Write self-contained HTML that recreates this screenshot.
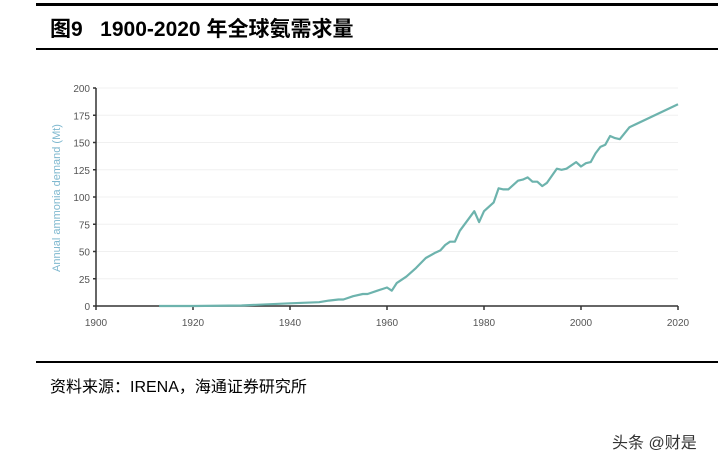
<!DOCTYPE html>
<html><head><meta charset="utf-8"><style>
body{margin:0;background:#fff;width:727px;height:464px;overflow:hidden;position:relative;font-family:"Liberation Sans","Noto Sans CJK SC",sans-serif}
.rule{position:absolute;left:36px;width:682px;height:3px;background:#000}
#title{position:absolute;left:50px;top:13px;font-size:21px;font-weight:bold;color:#000;font-family:"Liberation Sans","Noto Sans CJK SC",sans-serif}
#source{position:absolute;left:50px;top:373px;font-size:16px;color:#000}
#wm{position:absolute;left:612px;top:429px;font-size:16px;color:#333}
svg{position:absolute;left:0;top:0}
</style></head><body>
<div class="rule" style="top:3px"></div>
<div id="title">图9&nbsp;&nbsp; 1900-2020 年全球氨需求量</div>
<div class="rule" style="top:48px;height:2px"></div>
<svg id="chart" width="727" height="464"></svg>
<div class="rule" style="top:361px;height:2px"></div>
<div id="source">资料来源：IRENA，海通证券研究所</div>
<div id="wm">头条 @财是</div>
<script>
const years=[1913,1920,1930,1940,1946,1948,1950,1951,1953,1955,1956,1958,1960,1961,1962,1964,1966,1968,1970,1971,1972,1973,1974,1975,1977,1978,1979,1980,1982,1983,1984,1985,1987,1988,1989,1990,1991,1992,1993,1995,1996,1997,1999,2000,2001,2002,2003,2004,2005,2006,2007,2008,2010,2020];
const demand=[0,0,0.5,2.5,3.5,5,6,6,9,11,11,14,17,14,21,27,35,44,49,51,56,59,59,69,81,87,77,87,95,108,107,107,115,116,118,114,114,110,113,126,125,126,132,128,131,132,140,146,148,156,154,153,164,185];
const yTicks=[0,25,50,75,100,125,150,175,200];
const xTicks=[1900,1920,1940,1960,1980,2000,2020];
const NS="http://www.w3.org/2000/svg",svg=document.getElementById('chart');
const x0=96,x1=678,y0=306,y1=88;
const X=v=>x0+(v-1900)/120*(x1-x0), Y=v=>y0-v/200*(y0-y1);
function mk(t,a,p){const e=document.createElementNS(NS,t);for(const k in a)e.setAttribute(k,a[k]);(p||svg).appendChild(e);return e;}
yTicks.forEach(v=>{
 if(v>0){const g=mk('line',{x1:x0,x2:x1,y1:Y(v),y2:Y(v),stroke:'#f0f0f0','stroke-width':1});
 
 }
 const tk=mk('line',{x1:x0-3,x2:x0,y1:Y(v),y2:Y(v),stroke:'#333','stroke-width':1.5});
 
 
 const t=mk('text',{x:x0-6,y:Y(v)+4,'text-anchor':'end','font-size':10,fill:'#555','font-family':'Liberation Sans, sans-serif'});t.textContent=v;
 
 
});
xTicks.forEach(v=>{
 const tk=mk('line',{x1:X(v),x2:X(v),y1:y0,y2:y0+4,stroke:'#333','stroke-width':1.5});
 
 
 const t=mk('text',{x:X(v),y:y0+20,'text-anchor':'middle','font-size':10,fill:'#555','font-family':'Liberation Sans, sans-serif'});t.textContent=v;
 
 
});
const ax=mk('line',{x1:x0,x2:x1,y1:y0,y2:y0,stroke:'#333','stroke-width':1.5});


const ay=mk('line',{x1:x0,x2:x0,y1:y0,y2:y1,stroke:'#333','stroke-width':1.5});


const yt=mk('text',{x:0,y:0,transform:'translate(60,198) rotate(-90)','text-anchor':'middle','font-size':11,fill:'#7fb8cf','font-family':'Liberation Sans, sans-serif'});
yt.textContent='Annual ammonia demand (Mt)';


const d=years.map((y,i)=>(i?'L':'M')+X(y).toFixed(1)+','+Y(demand[i]).toFixed(1)).join('');
const ln=mk('path',{d:d,fill:'none',stroke:'#6db3ad','stroke-width':2.2,'stroke-linejoin':'round'});


</script>
</body></html>
